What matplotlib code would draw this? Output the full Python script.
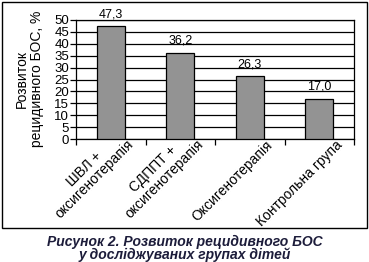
import numpy as np
import matplotlib.pyplot as plt
from matplotlib.patches import Rectangle

plt.rcParams['font.family'] = ['Liberation Sans', 'DejaVu Sans']

# Data
groups = ["ШВЛ +\nоксигенотерапія", "СДППТ +\nоксигенотерапія",
          "Оксигенотерапія", "Контрольна група"]
values = [47.3, 36.2, 26.3, 17.0]
yticks = np.arange(0, 55, 5)

W, H = 369, 262
fig = plt.figure(figsize=(W / 100, H / 100), dpi=100, facecolor="white")

# plot area in pixels: left 76, right 354, top 20, bottom 139
ax = fig.add_axes([76 / W, 1 - 139 / H, (354 - 76) / W, (139 - 20) / H])

x = np.arange(len(values))
ax.bar(x, values, width=0.4, color="#939393", edgecolor="black", linewidth=0.9, zorder=3)
ax.set_xlim(-0.5, len(values) - 0.5)
ax.set_ylim(0, 50)
ax.set_yticks(yticks)
ax.yaxis.grid(True, color="black", linewidth=0.9, zorder=0)
ax.tick_params(axis="y", labelsize=9.5, length=4, width=0.9, pad=1)

for i, v in enumerate(values):
    ax.text(i, v + 2.6, f"{v:.1f}".replace(".", ","), ha="center", va="bottom", fontsize=9)

# x ticks at category boundaries
ax.set_xticks(np.arange(-0.5, len(values), 1.0))
ax.set_xticklabels([])
ax.tick_params(axis="x", length=4, width=0.9)
for i, g in enumerate(groups):
    ax.text(i + 0.37, -3.6, g, rotation=45, rotation_mode="anchor", ha="right", va="bottom",
            multialignment="center", fontsize=10, linespacing=1.1)

for s in ["top", "right", "left", "bottom"]:
    ax.spines[s].set_linewidth(0.9)

fig.text(29.5 / W, 1 - 79 / H, "Розвиток\nрецидивного БОС, %", rotation=90,
         ha="center", va="center", multialignment="center", fontsize=10, linespacing=1.15)

# outer frame
fig.patches.append(Rectangle((1.5 / W, 1 - 227.5 / H), 365.5 / W, 226 / H,
                             transform=fig.transFigure, fill=False, edgecolor="black", linewidth=1.0))

fig.text(0.5, 1 - 242 / H, "Рисунок 2. Розвиток рецидивного БОС", ha="center", va="center",
         fontsize=10, fontweight="bold", fontstyle="italic", color="#1c1c3a")
fig.text(0.5, 1 - 255 / H, "у досліджуваних групах дітей", ha="center", va="center",
         fontsize=10, fontweight="bold", fontstyle="italic", color="#1c1c3a")

fig.savefig("out.png", dpi=100)
